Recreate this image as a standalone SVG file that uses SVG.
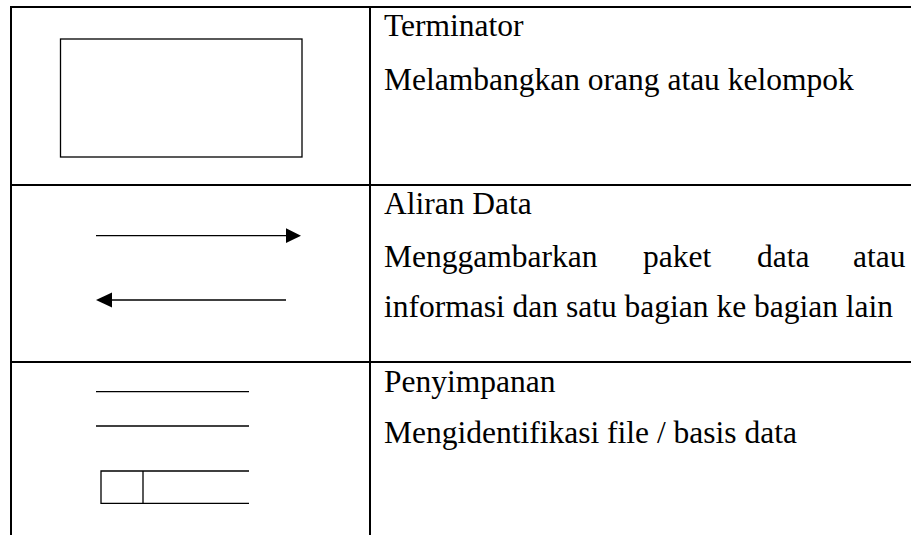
<svg xmlns="http://www.w3.org/2000/svg" width="911" height="535" viewBox="0 0 911 535">
  <style>
    .grid { stroke: #000; stroke-width: 2; fill: none; }
    .sym { stroke: #000; stroke-width: 1.3; fill: none; }
    .head { fill: #000; stroke: none; }
    .lbl { font-family: "Times New Roman", "Liberation Serif", Tinos, "DejaVu Serif", serif; font-size: 31.5px; fill: #000; }
  </style>
  <rect width="911" height="535" fill="#fff"/>

  <!-- table grid -->
  <g id="table">
    <line class="grid" x1="10" y1="7" x2="911" y2="7"/>
    <line class="grid" x1="10" y1="185" x2="911" y2="185"/>
    <line class="grid" x1="10" y1="362" x2="911" y2="362"/>
    <line class="grid" x1="11" y1="6" x2="11" y2="535"/>
    <line class="grid" x1="370" y1="6" x2="370" y2="535"/>
  </g>

  <!-- row 1: terminator -->
  <g id="terminator">
    <rect class="sym" x="60.5" y="39" width="241.5" height="118"/>
    <text class="lbl" x="384" y="36">Terminator</text>
    <text class="lbl" x="384" y="90">Melambangkan orang atau kelompok</text>
  </g>

  <!-- row 2: data flow -->
  <g id="aliran-data">
    <g id="connectors">
      <line class="sym" x1="96" y1="235.7" x2="287" y2="235.7"/>
      <polygon class="head" points="286,228.3 301,235.7 286,243.1"/>
      <line class="sym" x1="111" y1="300" x2="286" y2="300"/>
      <polygon class="head" points="96,300 112,292.5 112,307.5"/>
    </g>
    <text class="lbl" x="384" y="214">Aliran Data</text>
    <text class="lbl" x="384" y="267">Menggambarkan</text>
    <text class="lbl" x="643" y="267">paket</text>
    <text class="lbl" x="757" y="267">data</text>
    <text class="lbl" x="853" y="267">atau</text>
    <text class="lbl" x="384" y="317">informasi dan satu bagian ke bagian lain</text>
  </g>

  <!-- row 3: data store -->
  <g id="penyimpanan">
    <line class="sym" x1="96" y1="391.7" x2="249" y2="391.7"/>
    <line class="sym" x1="96" y1="426" x2="249" y2="426"/>
    <path class="sym" d="M249,471 H101 V503.3 H249 M143,471 V503.3"/>
    <text class="lbl" x="384" y="392">Penyimpanan</text>
    <text class="lbl" x="384" y="443">Mengidentifikasi file / basis data</text>
  </g>
</svg>
